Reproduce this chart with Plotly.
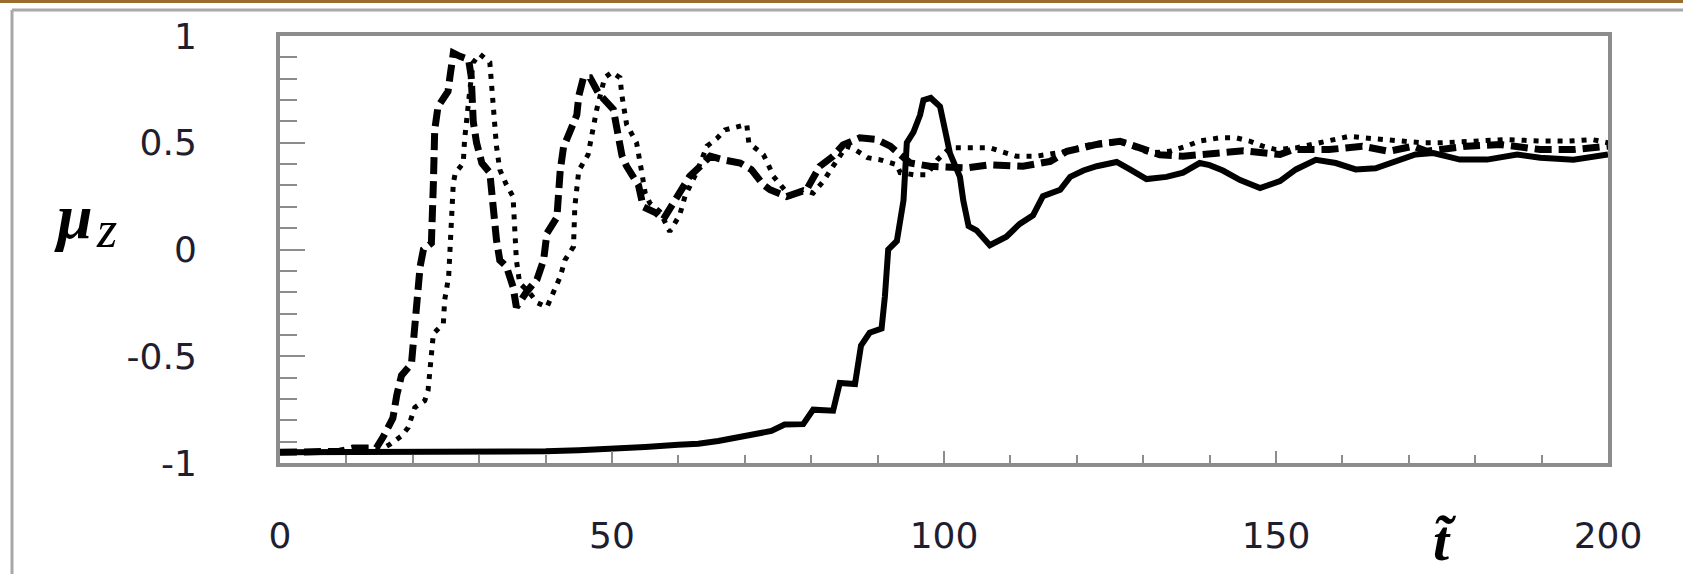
import plotly.graph_objects as go

# ---------------- data ----------------
t_solid = [0, 10, 20, 30, 35, 40, 45, 50, 55, 60, 63, 66, 69, 72, 74, 76, 78.8, 80.3, 83.3, 84.3,
           86.6, 87.5, 88.8, 90.6, 91.1, 91.6, 92.9, 93.9, 94.4, 95.4, 96.4, 96.9, 98, 99.4, 100.1,
           100.9, 102.4, 102.9, 103.7, 104.9, 106.9, 109.4, 111.4, 113.4, 114.9, 117.5, 119, 121,
           123, 126, 128, 130.5, 133.5, 136, 138.5, 140, 142, 144.6, 147.6, 150.6, 153, 156, 159,
           162, 165, 168, 171, 173.7, 177.7, 181.8, 186.3, 189.8, 194.8, 200]
mu_solid = [-0.95, -0.95, -0.95, -0.95, -0.948, -0.945, -0.94, -0.935, -0.925, -0.915, -0.91, -0.897,
            -0.882, -0.865, -0.85, -0.82, -0.818, -0.75, -0.755, -0.625, -0.63, -0.45, -0.39, -0.37,
            -0.22, 0.0, 0.04, 0.23, 0.5, 0.55, 0.63, 0.7, 0.71, 0.67, 0.58, 0.45, 0.34, 0.23, 0.11,
            0.09, 0.02, 0.06, 0.12, 0.16, 0.25, 0.28, 0.34, 0.37, 0.39, 0.41, 0.375, 0.33, 0.34, 0.36,
            0.405, 0.395, 0.37, 0.325, 0.288, 0.32, 0.375, 0.42, 0.405, 0.375, 0.38, 0.415, 0.445,
            0.452, 0.421, 0.421, 0.445, 0.43, 0.42, 0.445]

t_dash = [0, 8, 9, 11, 14.5, 15.5, 17, 17.6, 18.3, 19.8, 20.1, 20.6, 21.1, 21.6, 22.8, 23.1, 23.3,
          23.8, 25.3, 25.6, 26.1, 27.1, 28.4, 28.8, 29.1, 29.6, 30.4, 31.6, 31.9, 32.4, 32.6, 33.1,
          34.1, 35.1, 35.6, 37.1, 38.7, 39.7, 40.2, 41.7, 41.9, 42.2, 42.7, 43.7, 44.7, 45, 45.7,
          46.7, 48, 50.2, 51, 51.5, 52.2, 54, 54.7, 56.7, 57.7, 59.2, 60.7, 61.7, 63.3, 64.8, 66.8,
          69.3, 71, 72.8, 73.8, 76.3, 79.3, 81.3, 83.3, 84.8, 87.3, 89.9, 91.9, 93.4, 94.9, 97.9,
          100.9, 103.4, 106.9, 111.9, 116, 118.5, 123, 126.5, 129.5, 132.5, 136, 140.6, 145.1,
          150.6, 152.6, 158, 163, 167, 170.7, 172.7, 178.7, 183.8, 189.8, 194.8, 200]
mu_dash = [-0.95, -0.95, -0.945, -0.93, -0.93, -0.88, -0.79, -0.68, -0.59, -0.535, -0.42, -0.2,
           -0.08, 0.0, 0.03, 0.31, 0.56, 0.67, 0.74, 0.81, 0.92, 0.905, 0.89, 0.81, 0.6, 0.5, 0.405,
           0.36, 0.26, 0.15, 0.045, -0.05, -0.08, -0.175, -0.27, -0.2, -0.14, -0.05, 0.076, 0.15,
           0.26, 0.37, 0.48, 0.55, 0.63, 0.72, 0.805, 0.805, 0.73, 0.656, 0.54, 0.44, 0.39, 0.3, 0.2,
           0.17, 0.14, 0.217, 0.28, 0.343, 0.39, 0.437, 0.42, 0.405, 0.374, 0.303, 0.28, 0.248, 0.28,
           0.39, 0.437, 0.49, 0.523, 0.515, 0.484, 0.445, 0.405, 0.39, 0.39, 0.382, 0.397, 0.39,
           0.413, 0.46, 0.492, 0.507, 0.476, 0.444, 0.437, 0.452, 0.462, 0.445, 0.468, 0.468, 0.484,
           0.46, 0.484, 0.46, 0.484, 0.492, 0.468, 0.468, 0.484]

t_dot = [0, 13, 15, 16.6, 18.3, 19.3, 20.3, 21.8, 22.3, 22.6, 22.8, 23.1, 24.6, 24.8, 25.4, 25.6,
         25.9, 26.1, 26.4, 27.6, 27.8, 28.1, 28.6, 29.1, 30.1, 31.6, 31.9, 32.4, 32.6, 33.1, 34.1,
         35.1, 35.3, 35.6, 36.1, 37.5, 38.8, 40.2, 40.9, 41.7, 42.2, 42.9, 44.2, 44.4, 45, 46.4,
         46.7, 47.2, 47.7, 48.9, 50, 51.2, 51.5, 52.2, 53.7, 54.5, 55, 55.7, 57.2, 58.7, 60.2, 61,
         62.7, 64.3, 65.8, 67, 69.3, 70.3, 70.6, 72.8, 73.5, 74.3, 76.8, 78.8, 80.3, 81.8, 83.3,
         85.3, 86.5, 88.5, 90.4, 92.9, 93.4, 95.5, 97.4, 99, 100.9, 106.9, 110.9, 113.9, 118.5, 121,
         123.5, 127, 131, 134, 136.5, 138.5, 141.5, 144, 146, 148, 150, 153, 156.6, 159, 161, 165,
         168, 172, 175, 179.7, 184.8, 190, 194, 197.6, 200]
mu_dot = [-0.95, -0.95, -0.94, -0.912, -0.873, -0.834, -0.74, -0.708, -0.66, -0.55, -0.44, -0.394,
          -0.347, -0.237, -0.127, 0.0, 0.2, 0.311, 0.358, 0.405, 0.515, 0.625, 0.75, 0.876, 0.915,
          0.876, 0.766, 0.6, 0.484, 0.374, 0.303, 0.248, 0.1, -0.05, -0.158, -0.2, -0.25, -0.27,
          -0.22, -0.158, -0.128, -0.05, 0.013, 0.2, 0.37, 0.444, 0.5, 0.58, 0.656, 0.805, 0.83,
          0.805, 0.72, 0.586, 0.5, 0.358, 0.264, 0.217, 0.178, 0.084, 0.162, 0.25, 0.358, 0.484,
          0.52, 0.56, 0.578, 0.586, 0.5, 0.444, 0.4, 0.343, 0.25, 0.28, 0.264, 0.319, 0.39, 0.484,
          0.47, 0.43, 0.42, 0.397, 0.36, 0.35, 0.35, 0.42, 0.476, 0.476, 0.437, 0.437, 0.46, 0.484,
          0.5, 0.5, 0.452, 0.46, 0.484, 0.508, 0.523, 0.523, 0.508, 0.484, 0.468, 0.476, 0.5, 0.515,
          0.53, 0.518, 0.508, 0.5, 0.5, 0.51, 0.515, 0.508, 0.508, 0.515, 0.5]

x_tick_vals = [0, 50, 100, 150, 200]
x_tick_text = ["0", "50", "100", "150", "200"]
y_tick_vals = [-1, -0.5, 0, 0.5, 1]
y_tick_text = ["-1", "-0.5", "0", "0.5", "1"]

# ---------------- figure ----------------
W, H = 1683, 574
L, R, T, B = 280, 75, 36, 111
pw, ph = W - L - R, H - T - B

def px(x):
    return (x - L) / pw

def py(y):
    return (H - B - y) / ph

fig = go.Figure()
fig.add_trace(go.Scatter(x=t_dot, y=mu_dot, mode="lines",
                         line=dict(color="black", width=5, dash="5px,7px")))
fig.add_trace(go.Scatter(x=t_dash, y=mu_dash, mode="lines",
                         line=dict(color="black", width=7, dash="17px,7px")))
fig.add_trace(go.Scatter(x=t_solid, y=mu_solid, mode="lines",
                         line=dict(color="black", width=6)))

gray = "#8c8c8c"
tick_font = dict(family="DejaVu Sans", size=36, color="#1e1e30")

fig.update_xaxes(range=[0, 200], showgrid=False, zeroline=False,
                 showline=True, linecolor=gray, linewidth=4, mirror=True,
                 tickmode="array", tickvals=x_tick_vals, ticktext=x_tick_text,
                 ticks="inside", ticklen=12, tickwidth=2, tickcolor=gray,
                 minor=dict(dtick=10, ticks="inside", ticklen=8, tickwidth=2, tickcolor=gray),
                 tickfont=tick_font, ticklabelstandoff=38)
fig.update_yaxes(range=[-1, 1], showgrid=False, zeroline=False,
                 showline=True, linecolor=gray, linewidth=4, mirror=True,
                 tickmode="array", tickvals=y_tick_vals, ticktext=y_tick_text,
                 ticks="inside", ticklen=25, tickwidth=2, tickcolor=gray,
                 minor=dict(dtick=0.1, ticks="inside", ticklen=17, tickwidth=2, tickcolor=gray),
                 tickfont=tick_font, ticklabelstandoff=72)

shapes = [
    # brown strip at very top
    dict(type="rect", xref="paper", yref="paper", x0=px(0), x1=px(W), y0=py(0), y1=py(3),
         fillcolor="#9c6b30", line=dict(width=0), layer="above"),
    # outer gray frame (top and left)
    dict(type="line", xref="paper", yref="paper", x0=px(12), x1=px(W), y0=py(10), y1=py(10),
         line=dict(color="#a8a8a8", width=3)),
    dict(type="line", xref="paper", yref="paper", x0=px(12), x1=px(12), y0=py(10), y1=py(H),
         line=dict(color="#a8a8a8", width=3)),
]

annotations = [
    dict(text="<b><i>μ</i></b>", xref="paper", yref="paper", x=px(52), y=py(216),
         xanchor="left", yanchor="middle", showarrow=False,
         font=dict(family="Liberation Serif", size=64, color="black")),
    dict(text="<i>z</i>", xref="paper", yref="paper", x=px(94), y=py(230),
         xanchor="left", yanchor="middle", showarrow=False,
         font=dict(family="Liberation Serif", size=52, color="black")),
    dict(text="<b><i>t\u0303</i></b>", xref="paper", yref="paper", x=px(1445), y=py(540),
         xanchor="center", yanchor="middle", showarrow=False,
         font=dict(family="Liberation Serif", size=58, color="black")),
]

fig.update_layout(width=W, height=H, margin=dict(l=L, r=R, t=T, b=B),
                  paper_bgcolor="white", plot_bgcolor="white", showlegend=False,
                  shapes=shapes, annotations=annotations)

fig.write_html("out.html")
